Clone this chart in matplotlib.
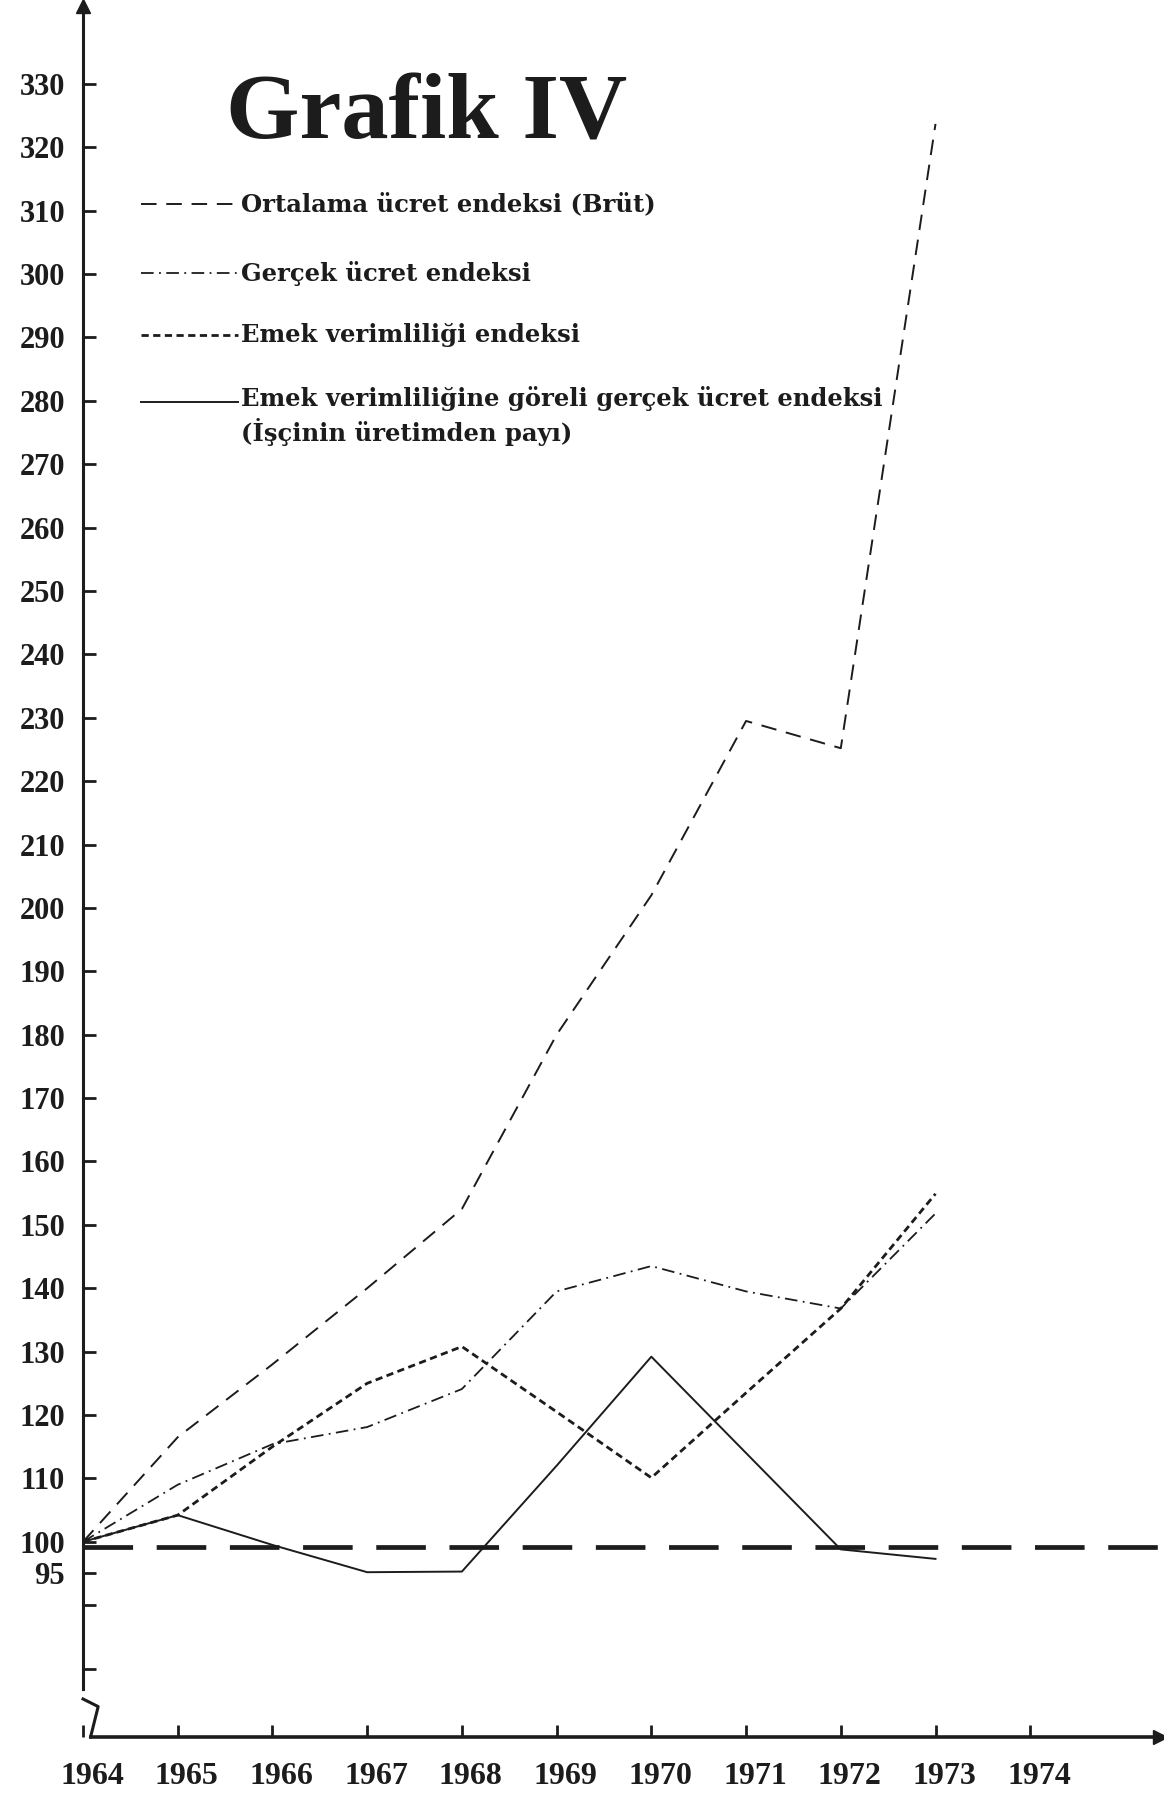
import matplotlib
matplotlib.use("Agg")
import matplotlib.pyplot as plt
from matplotlib.lines import Line2D
from matplotlib.transforms import ScaledTranslation

years = [1964, 1965, 1966, 1967, 1968, 1969, 1970, 1971, 1972, 1973]

ortalama_brut = [100, 116.5, 128, 140, 152.5, 180, 202, 229.5, 225.2, 323.7]
gercek_ucret = [100, 109, 115.4, 118.1, 124.1, 139.5, 143.5, 139.5, 136.8, 151.8]
emek_verim = [100, 104.2, 115, 125, 130.8, 120.5, 110.1, 123.5, 136.8, 154.9]
goreli_ucret = [100, 104.2, 99.5, 95.2, 95.3, 112, 129.2, 114, 98.8, 97.3]

base_level = 99.2

labels = [
    "Ortalama ücret endeksi (Brüt)",
    "Gerçek ücret endeksi",
    "Emek verimliliği endeksi",
    "Emek verimliliğine göreli gerçek ücret endeksi\n(İşçinin üretimden payı)",
]

x_ticks = list(range(1964, 1975))
y_ticks = [95] + list(range(100, 331, 10))
y_minor = [80, 90]

ink = "#1c1c1c"

fig = plt.figure(figsize=(11.64, 18), dpi=100)
ax = fig.add_axes([83 / 1164, 63 / 1800, 1077 / 1164, 1731 / 1800])
ax.set_xlim(1964, 1975.37)
ax.set_ylim(69.2, 342.3)

styles = [
    dict(color=ink, lw=1.4, dashes=[8, 5]),
    dict(color=ink, lw=1.3, dashes=[7, 3, 1, 3]),
    dict(color=ink, lw=2.0, dashes=[2.6, 1.6]),
    dict(color=ink, lw=1.4, linestyle="-"),
]
series = [ortalama_brut, gercek_ucret, emek_verim, goreli_ucret]
for vals, st in zip(series, styles):
    ax.plot(years, vals, **st)

# base = 100 reference line
ax.axhline(base_level, color=ink, lw=3.4, dashes=[10.5, 5], xmin=0)

# axes with arrows and a break at the bottom
for s in ["top", "right", "left", "bottom"]:
    ax.spines[s].set_visible(False)
ax.plot([1964, 1964], [76.8, 342.3], color=ink, lw=2.2, clip_on=False)
ax.plot([1964.0, 1964.16, 1964.08, 1964.08], [75.2, 74.0, 69.2, 69.2],
        color=ink, lw=2.2, clip_on=False)
ax.plot([1964.08, 1975.37], [69.2, 69.2], color=ink, lw=2.6, clip_on=False)
ax.plot([0], [1], marker="^", ms=10, color=ink, transform=ax.transAxes, clip_on=False)
ax.plot([1], [0], marker=">", ms=10, color=ink, transform=ax.transAxes, clip_on=False)

ax.set_yticks(y_ticks)
ax.set_yticklabels([str(v) for v in y_ticks])
ax.set_yticks(y_minor, minor=True)
ax.set_xticks(x_ticks)
ax.set_xticklabels([str(v) for v in x_ticks])
ax.tick_params(axis="both", which="both", direction="in", length=9, width=2, color=ink)
ax.tick_params(axis="y", pad=13)
ax.tick_params(axis="x", pad=18)
for lab in ax.get_yticklabels():
    lab.set_fontfamily("Liberation Serif")
    lab.set_fontweight("bold")
    lab.set_fontsize(22)
    lab.set_color(ink)
for lab in ax.get_xticklabels():
    lab.set_fontfamily("Liberation Serif")
    lab.set_fontweight("bold")
    lab.set_fontsize(23)
    lab.set_color(ink)
    lab.set_transform(lab.get_transform() + ScaledTranslation(0.09, 0, fig.dpi_scale_trans))

# title
fig.text(427 / 1164, 1 - 138 / 1800, "Grafik IV", ha="center", va="baseline",
         fontsize=68, fontweight="bold", family="Liberation Serif", color=ink)

# hand-made legend
rows_y = [204, 273, 335, 402]
for lab, st, yy in zip(labels, styles, rows_y):
    y = 1 - yy / 1800
    fig.add_artist(Line2D([141 / 1164, 238 / 1164], [y, y], transform=fig.transFigure, **st))
    fig.text(241 / 1164, y, lab, ha="left", va="top" if "\n" in lab else "center",
             fontsize=17.5, fontweight="bold", family="DejaVu Serif", color=ink,
             linespacing=1.3,
             transform=fig.transFigure + ScaledTranslation(0, 0.16 if "\n" in lab else 0,
                                                          fig.dpi_scale_trans))

fig.savefig("out.png", dpi=100, facecolor="white")
